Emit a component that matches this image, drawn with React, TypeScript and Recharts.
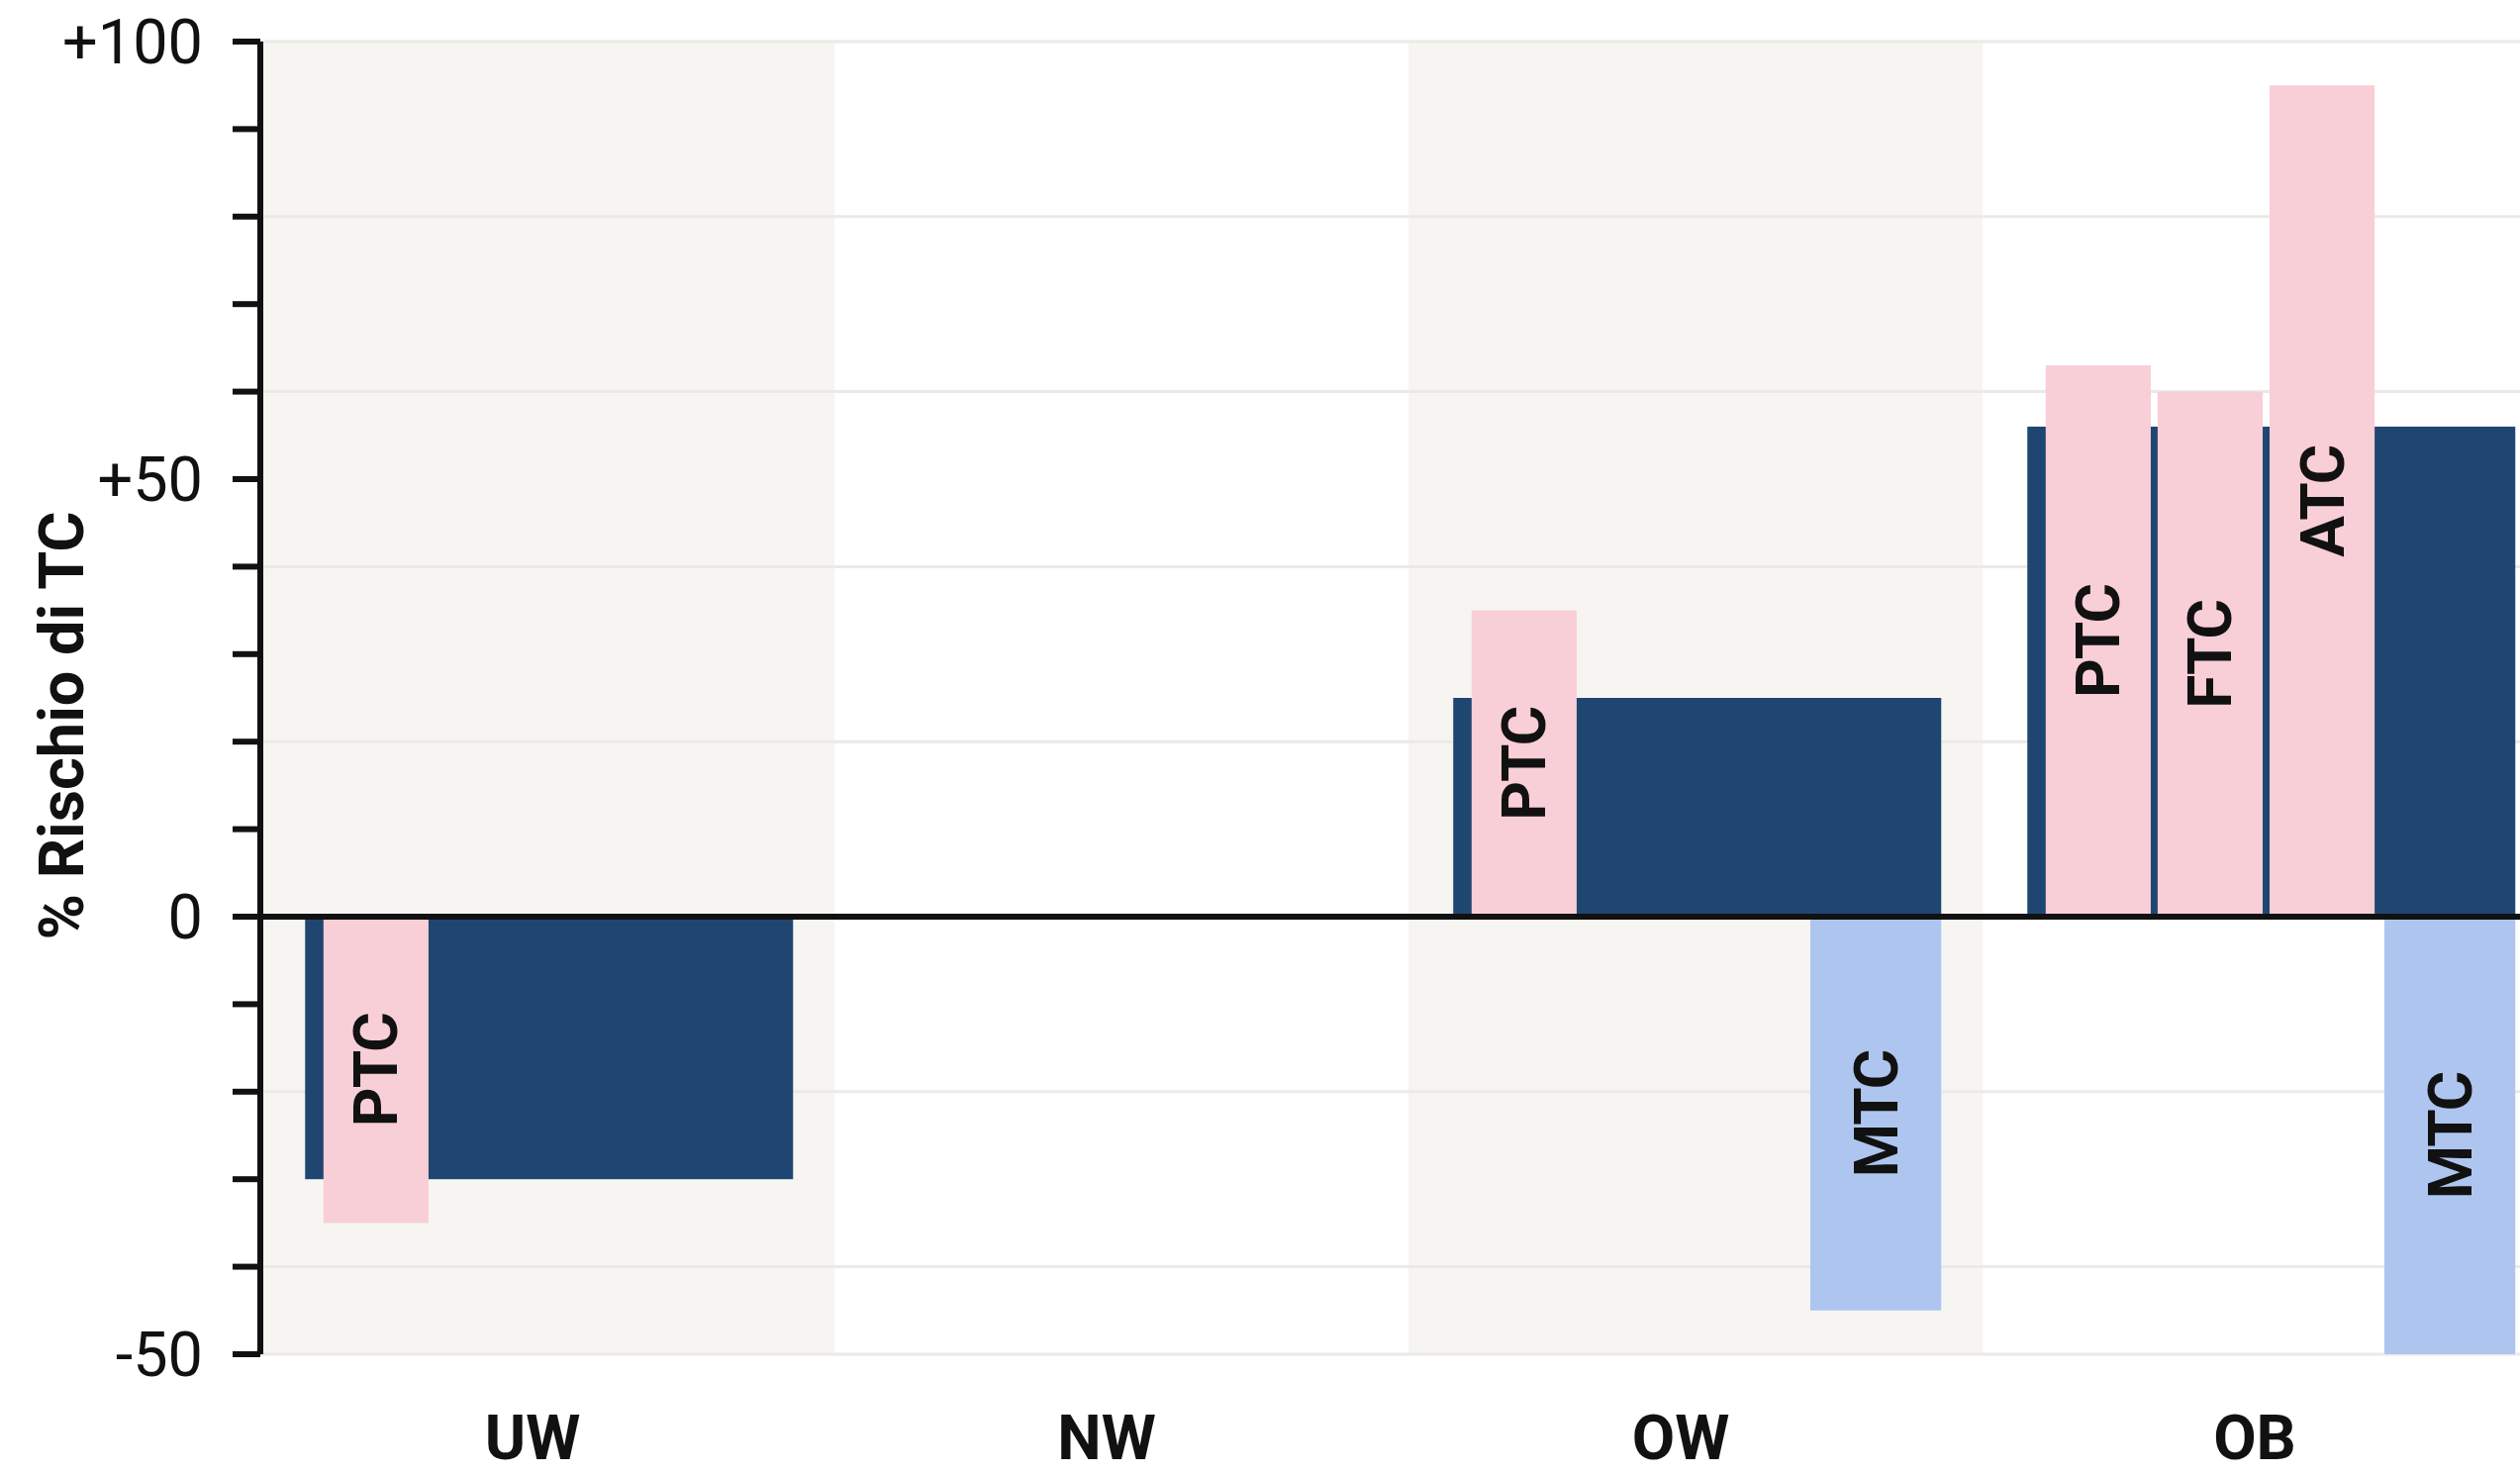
import { ComposedChart, Bar, XAxis, YAxis, CartesianGrid, ReferenceLine } from 'recharts';

const categories = ['UW', 'NW', 'OW', 'OB'];
const totalRisk = [-30, null, 25, 56];
const ptcRisk = [-35, null, 35, 63];
const ftcRisk = [null, null, null, 60];
const atcRisk = [null, null, null, 95];
const mtcRisk = [null, null, -45, -50];

const yTicks = [-50, -40, -30, -20, -10, 0, 10, 20, 30, 40, 50, 60, 70, 80, 90, 100];
const labeledTicks = [-50, 0, 50, 100];
const gridValues = [100, 80, 60, 40, 20, -20, -40, -50];

const data = categories.map((cat, i) => ({
   cat,
   total: totalRisk[i],
   ptc: ptcRisk[i],
   ftc: ftcRisk[i],
   atc: atcRisk[i],
   mtc: mtcRisk[i]
}));

const DARK = '#1f4670';
const PINK = '#f8ced7';
const LIGHT_BLUE = '#aec6ef';
const SHADE = '#f6f5f2';
const INK = '#111111';

// where each series sits inside a category band (fractions of the band)
const SLOTS = 5;
const layout: Record<string, { slot: number; left: number; width: number }> = {
   total: { slot: 0, left: 0.078, width: 0.85 },
   ptc: { slot: 1, left: 0.11, width: 0.183 },
   ftc: { slot: 2, left: 0.305, width: 0.183 },
   atc: { slot: 3, left: 0.5, width: 0.183 },
   mtc: { slot: 4, left: 0.7, width: 0.228 }
};

function bandShape(key: string, fill: string, label?: string) {
   const { slot, left, width } = layout[key];
   return (props: any) => {
      const { x, y, width: w, height } = props;
      if (![x, y, w, height].every((v) => Number.isFinite(v)) || height === 0) return <g />;
      const band = w * SLOTS;
      const start = x - slot * w;
      const bx = start + left * band;
      const bw = width * band;
      const top = Math.min(y, y + height);
      const h = Math.abs(height);
      const cx = bx + bw / 2;
      const cy = top + h / 2;
      return (
         <g>
            <rect x={bx} y={top} width={bw} height={h} fill={fill} />
            {label && (
               <text
                  x={cx}
                  y={cy}
                  transform={`rotate(-90 ${cx} ${cy})`}
                  textAnchor='middle'
                  dominantBaseline='central'
                  fontFamily='Roboto'
                  fontWeight={700}
                  fontSize={62}
                  letterSpacing={-1}
                  fill={INK}
               >
                  {label}
               </text>
            )}
         </g>
      );
   };
}

const bandStarts = ({ xAxis, offset }: any) => {
   const scale = xAxis?.scale;
   if (typeof scale === 'function') {
      const pts = categories.map((c) => scale(c));
      if (pts.every((p: any) => Number.isFinite(p))) return pts;
   }
   return categories.map((_, i) => offset.left + (i * offset.width) / categories.length);
};

const gridRows = ({ yAxis, offset }: any) => {
   const scale = yAxis?.scale;
   if (typeof scale === 'function') {
      const pts = gridValues.map((v) => scale(v));
      if (pts.every((p: any) => Number.isFinite(p))) return pts;
   }
   return gridValues.map((v) => offset.top + ((100 - v) / 150) * offset.height);
};

const CategoryTick = ({ x, y, payload }: any) => (
   <text
      x={x - 15}
      y={y + 106}
      textAnchor='middle'
      fontFamily='Roboto'
      fontWeight={700}
      fontSize={63}
      fill={INK}
   >
      {payload.value}
   </text>
);

const AxisTitle = (props: any) => {
   const vb = props.viewBox || { x: 0, y: 42, width: 263, height: 1326 };
   const cx = vb.x + 62;
   const cy = vb.y + vb.height / 2 + 28;
   return (
      <text
         x={cx}
         y={cy}
         transform={`rotate(-90 ${cx} ${cy})`}
         textAnchor='middle'
         dominantBaseline='central'
         fontFamily='Roboto'
         fontWeight={700}
         fontSize={63}
         fill={INK}
      >
         % Rischio di TC
      </text>
   );
};

const formatTick = (v: number) => {
   if (!labeledTicks.includes(v)) return '';
   return v > 0 ? `+${v}` : `${v}`;
};

export default function App() {
   return (
      <div
         style={{
            position: 'fixed',
            left: 0,
            top: 0,
            width: 2546,
            height: 1490,
            overflow: 'hidden',
            background: '#ffffff'
         }}
      >
         <ComposedChart
            width={2583}
            height={1490}
            data={data}
            margin={{ top: 42, right: 0, bottom: 0, left: 0 }}
            barGap={0}
            barCategoryGap={0}
         >
            <CartesianGrid
               stroke='#ebeae6'
               strokeWidth={3}
               verticalFill={[SHADE, '#ffffff']}
               vertical={(p: any) => <g key={p.key} />}
               verticalCoordinatesGenerator={bandStarts}
               horizontalCoordinatesGenerator={gridRows}
            />
            <XAxis
               dataKey='cat'
               height={122}
               axisLine={false}
               tickLine={false}
               tickSize={0}
               tickMargin={0}
               interval={0}
               tick={<CategoryTick />}
            />
            <YAxis
               width={263}
               domain={[-50, 100]}
               ticks={yTicks}
               interval={0}
               tickFormatter={formatTick}
               tickSize={28}
               tickMargin={30}
               axisLine={{ stroke: INK, strokeWidth: 6 }}
               tickLine={{ stroke: INK, strokeWidth: 6 }}
               tick={{ fontSize: 63, fill: INK, fontFamily: 'Roboto' }}
               label={{ content: AxisTitle }}
            />
            <Bar dataKey='total' shape={bandShape('total', DARK)} isAnimationActive={false} />
            <Bar dataKey='ptc' shape={bandShape('ptc', PINK, 'PTC')} isAnimationActive={false} />
            <Bar dataKey='ftc' shape={bandShape('ftc', PINK, 'FTC')} isAnimationActive={false} />
            <Bar dataKey='atc' shape={bandShape('atc', PINK, 'ATC')} isAnimationActive={false} />
            <Bar dataKey='mtc' shape={bandShape('mtc', LIGHT_BLUE, 'MTC')} isAnimationActive={false} />
            <ReferenceLine y={0} stroke={INK} strokeWidth={6} />
         </ComposedChart>
      </div>
   );
}
